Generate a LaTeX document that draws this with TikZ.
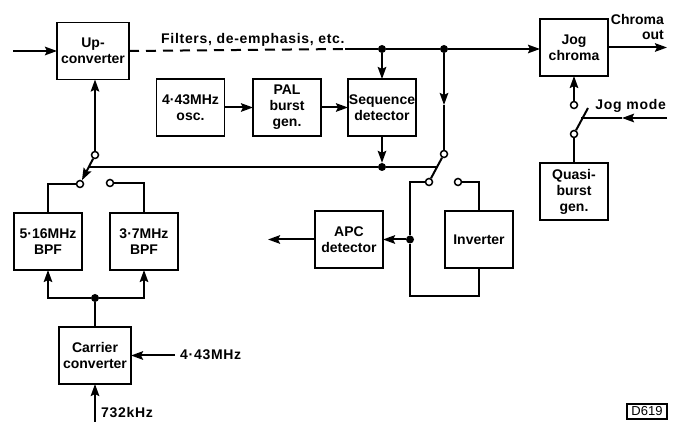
\documentclass[tikz,border=0pt]{standalone}
\usepackage{fontspec}
\setmainfont{Liberation Sans}
\usepackage{tikz}
\usetikzlibrary{arrows.meta, positioning}

\tikzset{
  blockbox/.style={rectangle, draw, line width=1.8pt, inner sep=0pt, outer sep=0pt, align=center, minimum width=68pt, minimum height=57pt},
  widebox/.style={blockbox, minimum width=72pt},
  sigline/.style={line width=2pt},
  junction/.style={circle, fill, inner sep=0pt, minimum size=8pt},
  contact/.style={circle, draw, fill=white, line width=1.5pt, inner sep=0pt, minimum size=7pt},
  textlabel/.style={inner sep=0pt, align=center, font=\fontsize{14}{16}\selectfont\bfseries\addfontfeature{LetterSpace=5}}
}

\begin{document}
\begin{tikzpicture}[x=1pt, y=1pt, >={Stealth[length=12pt, width=8.5pt, inset=2pt]}, font=\fontsize{14}{16}\selectfont\bfseries]
      \useasboundingbox (0,0) rectangle (681,-422);

      % blocks
      \node (up) [widebox] at (93,-51) {Up-\\converter};
      \node (osc) [blockbox] at (190.5,-107.5) {4·43MHz\\osc.};
      \node (pal) [blockbox, right=28.5pt of osc] {PAL\\burst\\gen.};
      \node (seq) [blockbox, right=27pt of pal] {Sequence\\detector};
      \node (bpfa) [blockbox] at (48,-241.5) {5·16MHz\\BPF};
      \node (bpfb) [blockbox, right=28pt of bpfa] {3·7MHz\\BPF};
      \node (carrier) [widebox] at (95,-355.5) {Carrier\\converter};
      \node (apc) [blockbox] at (349,-239.5) {APC\\detector};
      \node (inv) [blockbox, right=62pt of apc] {Inverter};
      \node (jog) [blockbox] at (574,-47.5) {Jog\\chroma};
      \node (quasi) [blockbox, below=87pt of jog] {Quasi-\\burst\\gen.};

      % junctions and switch contacts
      \node (jseq) [junction] at (382,-49) {};
      \node (jsw) [junction] at (444,-49) {};
      \node (jctl) [junction] at (382,-167) {};
      \node (jbpf) [junction] at (95,-298) {};
      \node (japc) [junction] at (410,-239.5) {};
      \node (swatop) [contact] at (95,-155) {};
      \node (swaleft) [contact] at (80,-184) {};
      \node (swaright) [contact] at (110,-183) {};
      \node (swbtop) [contact] at (444,-154) {};
      \node (swbleft) [contact] at (429,-182) {};
      \node (swbright) [contact] at (458,-182) {};
      \node (swctop) [contact] at (574,-105) {};
      \node (swcbot) [contact] at (574,-134) {};

      % free ends
      \coordinate (vidin) at (13,-51);
      \coordinate (dashend) at (345,-49);
      \coordinate (chromaend) at (667,-47.5);
      \coordinate (ctlleft) at (89,-167);
      \coordinate (ctlright) at (437,-167);
      \coordinate (swbmid) at (444,-105);
      \coordinate (apcout) at (268,-239.5);
      \coordinate (refin) at (175,-355.5);
      \coordinate (lowin) at (95,-422);
      \coordinate (armtip) at (588,-108);
      \coordinate (armjoin) at (581,-118);
      \coordinate (jogin) at (667,-118);
      \coordinate (jogmid) at (622,-118);

      % labels
      \node (filters) [textlabel, anchor=west] at (161,-40) {Filters, de-emphasis, etc.};
      \node (chroma) [inner sep=0pt, align=right, anchor=east, font=\fontsize{14}{15}\selectfont\bfseries] at (664,-26.5) {Chroma\\out};
      \node (jogmode) [textlabel, anchor=east] at (666,-106) {Jog mode};
      \node (reflabel) [textlabel, anchor=west] at (180,-355) {4·43MHz};
      \node (lowlabel) [textlabel, anchor=west] at (101,-413) {732kHz};
      \node (drawno) [draw, line width=1.5pt, inner sep=0pt, minimum width=40pt, minimum height=15pt, font=\fontsize{13}{13}\selectfont] at (647,-411.5) {D619};

      % signal path
      \draw[sigline, ->] (vidin) -- (up.west);
      \draw[sigline, dashed, dash pattern=on 10pt off 7pt] (up.east) -- (dashend);
      \draw[sigline] (dashend) -- (jseq) -- (jsw);
      \draw[sigline, ->] (jsw) -- (jsw -| jog.west);
      \draw[sigline, ->] (jog.east) -- (chromaend);
      \draw[sigline, ->] (jseq) -- (seq.north);
      \draw[sigline, ->] (seq.south) -- (jctl);
      \draw[sigline, ->] (osc) -- (pal);
      \draw[sigline, ->] (pal) -- (seq);
      \draw[sigline, ->] (jsw) -- (swbmid);
      \draw[sigline] (swbmid) -- (swbtop);

      % switch with the two filters
      \draw[sigline, ->] (swatop) -- (swaleft);
      \draw[sigline, ->] (swatop) -- (up.south -| swatop);
      \draw[sigline] (ctlleft) -- (jctl) -- (ctlright);
      \draw[sigline] (swaleft) -| (bpfa.north);
      \draw[sigline] (swaright) -| (bpfb.north);
      \draw[sigline, ->] (jbpf) -| (bpfa.south);
      \draw[sigline, ->] (jbpf) -| (bpfb.south);
      \draw[sigline] (carrier.north) -- (jbpf);
      \draw[sigline, ->] (refin) -- (carrier.east);
      \draw[sigline, ->] (lowin) -- (carrier.south);

      % switch with the inverter
      \draw[sigline] (swbtop) -- (swbleft);
      \draw[sigline] (swbright) -| (inv.north);
      \draw[sigline] (swbleft) -| (japc);
      \draw[sigline] (japc) |- ([yshift=-28.5pt]inv.south) -- (inv.south);
      \draw[sigline, ->] (japc) -- (apc.east);
      \draw[sigline, ->] (apc.west) -- (apcout);

      % jog switch
      \draw[sigline, ->] (swctop) -- (jog.south);
      \draw[sigline] (swcbot) -- (armtip);
      \draw[sigline] (swcbot) -- (quasi.north);
      \draw[sigline, ->] (jogin) -- (jogmid);
      \draw[sigline] (jogmid) -- (armjoin);
    \end{tikzpicture}
\end{document}
